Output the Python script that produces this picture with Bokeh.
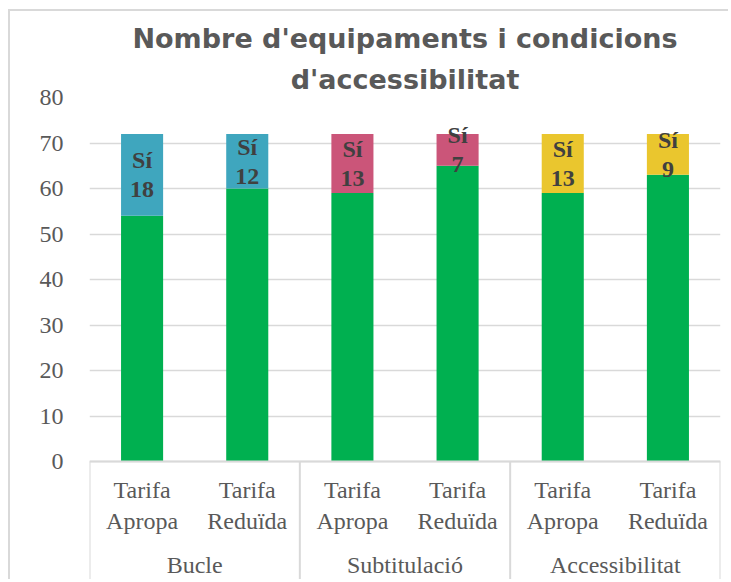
from bokeh.plotting import figure
from bokeh.models import Range1d, FixedTicker, Title
from bokeh.core.properties import value
from bokeh.embed import file_html
from bokeh.resources import INLINE

# ---- data ----
title_lines = ["Nombre d'equipaments i condicions", "d'accessibilitat"]
groups = ["Bucle", "Subtitulació", "Accessibilitat"]
subcats = ["Tarifa\nApropa", "Tarifa\nReduïda"]
no_values = [54, 60, 59, 65, 59, 63]
si_values = [18, 12, 13, 7, 13, 9]
si_label = "Sí"
y_ticks = [0, 10, 20, 30, 40, 50, 60, 70, 80]

# ---- styles ----
GREEN = "#00B050"
SI_COLORS = ["#3FA6BE", "#3FA6BE", "#CB5579", "#CB5579", "#EAC62E", "#EAC62E"]
GRID = "#d9d9d9"
TXT = "#595959"

n = len(no_values)
xs = [i + 0.5 for i in range(n)]
ymax = 80
W, H = 720, 570
top_b = 86
px_per_unit = 4.55
frame_h = H - top_b
ymin = ymax - frame_h / px_per_unit

p = figure(width=W, height=H, output_backend="svg", toolbar_location=None,
           title=None,
           x_range=Range1d(0, n), y_range=Range1d(ymin, ymax),
           min_border_left=79, min_border_right=W - 710, min_border_top=top_b,
           min_border_bottom=0)
p.styles = {"margin-left": "8px", "margin-top": "9px",
            "border-left": "2px solid #d9d9d9", "border-top": "2px solid #d9d9d9"}
p.outline_line_color = None
p.background_fill_color = "white"
p.border_fill_color = "white"

for txt, so in [(title_lines[1], 6), (title_lines[0], 10)]:
    t = Title(text=txt, align="center", text_font="DejaVu Sans",
              text_font_style="bold", text_font_size="27px", text_color=TXT,
              standoff=so)
    p.add_layout(t, "above")

# axes
p.xaxis.visible = False
yax = p.yaxis[0]
yax.ticker = FixedTicker(ticks=y_ticks)
yax.bounds = (0, ymax)
yax.axis_line_color = None
yax.major_tick_line_color = None
yax.minor_tick_line_color = None
yax.major_label_text_font = "Liberation Serif"
yax.major_label_text_font_size = "24px"
yax.major_label_text_color = TXT
yax.major_label_standoff = 20

p.xgrid.visible = False
p.ygrid.ticker = FixedTicker(ticks=y_ticks)
p.ygrid.bounds = (0, ymax)
p.ygrid.grid_line_color = GRID
p.ygrid.grid_line_width = 1.5

# bars
tops = [a + b for a, b in zip(no_values, si_values)]
p.vbar(x=xs, bottom=0, top=no_values, width=0.4, fill_color=GREEN, line_color=None)
p.vbar(x=xs, bottom=no_values, top=tops, width=0.4, fill_color=SI_COLORS, line_color=None)

# value labels
mids = [a + b / 2 for a, b in zip(no_values, si_values)]
labels = [f"{si_label}\n{v}" for v in si_values]
p.text(x=xs, y=mids, text=labels, text_align="center", text_baseline="middle",
       text_font=value("Liberation Serif"), text_font_style="bold",
       text_font_size="24px", text_color="#404040", text_line_height=1.12)

# category axis drawn in data space
p.segment(x0=[0], y0=[0], x1=[n], y1=[0], line_color=GRID, line_width=2)
sep_x = [i * len(subcats) for i in range(len(groups) + 1)]
p.segment(x0=sep_x, y0=[0] * len(sep_x), x1=sep_x, y1=[ymin] * len(sep_x),
          line_color=GRID, line_width=2)

sub_text = [subcats[i % len(subcats)] for i in range(n)]
p.text(x=xs, y=[0] * n, text=sub_text, y_offset=44, text_align="center",
       text_baseline="middle", text_font=value("Liberation Serif"),
       text_font_size="24px", text_color=TXT, text_line_height=1.17)

gx = [i * len(subcats) + len(subcats) / 2 for i in range(len(groups))]
p.text(x=gx, y=[0] * len(groups), text=groups, y_offset=103, text_align="center",
       text_baseline="middle", text_font=value("Liberation Serif"),
       text_font_size="24px", text_color=TXT)

open("out.html", "w").write(file_html(p, INLINE))
